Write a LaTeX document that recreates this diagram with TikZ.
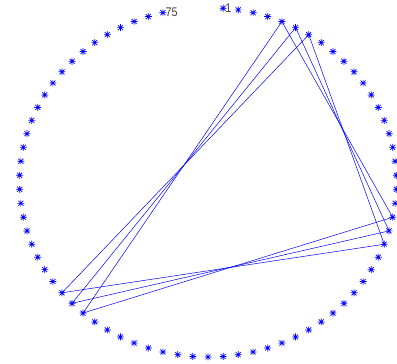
\documentclass[tikz,border=0pt]{standalone}
\usepackage{fontspec}
\setmainfont{Liberation Sans}
\usetikzlibrary{calc}
\begin{document}
\begin{tikzpicture}[x=1pt,y=-1pt]
\useasboundingbox (0,0) rectangle (397,364);
\tikzset{
  mk/.style={blue, line width=0.7pt},
  chord/.style={blue, line width=0.5pt},
  lbl/.style={text=black!75, font=\fontsize{12.5}{13}\selectfont, anchor=west, inner sep=0pt, xscale=0.86}
}
\foreach \k in {1,...,75}{
  \pgfmathsetmacro{\ang}{4.6153846*\k}
  \coordinate (p\k) at ({208+188.5*sin(\ang)},{182.3-174.7*cos(\ang)});
  \draw[mk] (p\k) ++(-3.5,0) -- ++(7,0)
            (p\k) ++(0,-3.5) -- ++(0,7)
            (p\k) ++(-2.5,-2.5) -- ++(5,5)
            (p\k) ++(-2.5,2.5) -- ++(5,-5);
}
\node[lbl] (l1) at ($(p1)+(2,0)$) {1};
\node[lbl] (l75) at ($(p75)+(2.6,0)$) {75};
\draw[chord] (p5) -- (p22) -- (p48) -- cycle;
\draw[chord] (p6) -- (p23) -- (p49) -- cycle;
\draw[chord] (p7) -- (p24) -- (p50) -- cycle;
\end{tikzpicture}
\end{document}
